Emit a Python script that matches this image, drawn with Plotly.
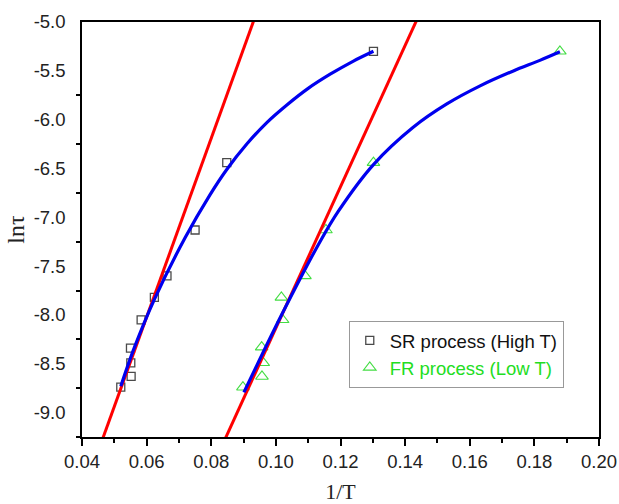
import plotly.graph_objects as go

# Measured relaxation times, slow-relaxation (high T) process
sr_x = [0.0520, 0.0552, 0.0551, 0.0550, 0.0583, 0.0624, 0.0663, 0.0750, 0.0848, 0.1302]
sr_y = [-8.74, -8.63, -8.49, -8.34, -8.05, -7.82, -7.60, -7.13, -6.44, -5.30]

# Measured relaxation times, fast-relaxation (low T) process
fr_x = [0.0898, 0.0957, 0.0961, 0.0956, 0.1021, 0.1017, 0.1090, 0.1155, 0.1302, 0.1879]
fr_y = [-8.74, -8.63, -8.49, -8.33, -8.05, -7.82, -7.60, -7.13, -6.44, -5.30]

# Full fits (smooth curves)
sr_fit_x = [0.0520, 0.0559, 0.0624, 0.0719, 0.0796, 0.0848, 0.0910, 0.0972,
            0.1034, 0.1100, 0.1168, 0.1240, 0.1302]
sr_fit_y = [-8.73, -8.36, -7.84, -7.21, -6.77, -6.51, -6.25, -6.03,
            -5.85, -5.68, -5.535, -5.40, -5.30]
fr_fit_x = [0.0901, 0.1019, 0.1137, 0.1193, 0.1302, 0.1425, 0.1529, 0.1632,
            0.1735, 0.1817, 0.1879]
fr_fit_y = [-8.793, -7.991, -7.247, -6.939, -6.46, -6.078, -5.839, -5.654,
            -5.501, -5.393, -5.305]

# Arrhenius lines: ln(tau) = a + b * (1/T)
sr_arr_a, sr_arr_b = -13.518, 91.6
fr_arr_a, fr_arr_b = -15.369, 72.35
arr_x = [0.04, 0.20]

x_ticks = [0.04, 0.06, 0.08, 0.10, 0.12, 0.14, 0.16, 0.18, 0.20]
x_labels = ["0.04", "0.06", "0.08", "0.10", "0.12", "0.14", "0.16", "0.18", "0.20"]
y_ticks = [-9.0, -8.5, -8.0, -7.5, -7.0, -6.5, -6.0, -5.5, -5.0]
y_labels = ["-9.0", "-8.5", "-8.0", "-7.5", "-7.0", "-6.5", "-6.0", "-5.5", "-5.0"]
y_marks = [-9.25, -8.75, -8.25, -7.75, -7.25, -6.75, -6.25, -5.75]

fig = go.Figure()

fig.add_trace(go.Scatter(
    x=sr_x, y=sr_y, mode="markers", name="SR process (High T)",
    marker=dict(symbol="square-open", size=8, color="#4a4a4a", line=dict(width=1.3)),
))
fig.add_trace(go.Scatter(
    x=fr_x, y=fr_y, mode="markers",
    name="<span style='color:#22dd22'>FR process (Low T)</span>",
    marker=dict(symbol="triangle-up-open", size=11, color="#44dd44", line=dict(width=1.1)),
))

for a, b in [(sr_arr_a, sr_arr_b), (fr_arr_a, fr_arr_b)]:
    fig.add_trace(go.Scatter(
        x=arr_x, y=[a + b * v for v in arr_x], mode="lines", showlegend=False,
        line=dict(color="#ff0000", width=3), hoverinfo="skip",
    ))

for fx, fy in [(sr_fit_x, sr_fit_y), (fr_fit_x, fr_fit_y)]:
    fig.add_trace(go.Scatter(
        x=fx, y=fy, mode="lines", showlegend=False,
        line=dict(color="#0000ee", width=3.2, shape="spline", smoothing=0.9),
        hoverinfo="skip",
    ))

serif = "Liberation Serif, Times New Roman, serif"

fig.update_layout(
    width=619, height=504,
    margin=dict(l=82, r=20, t=22, b=67),
    paper_bgcolor="white", plot_bgcolor="white",
    font=dict(family="Liberation Sans, Arial, sans-serif", size=18.5, color="#222"),
    legend=dict(
        x=0.516, y=0.28, xanchor="left", yanchor="top",
        bordercolor="#999", borderwidth=1, bgcolor="white",
        font=dict(size=18.5, color="#111"),
        tracegroupgap=0,
    ),
    xaxis=dict(
        range=[0.04, 0.20], tickvals=x_ticks, ticktext=x_labels, automargin=False,
        showline=True, linecolor="black", linewidth=1.5, mirror=True,
        ticks="outside", ticklen=7, tickwidth=1.5, tickcolor="black",
        minor=dict(dtick=0.01, tick0=0.04, ticks="outside", ticklen=4, tickwidth=1.5, tickcolor="black"),
        showgrid=False, zeroline=False,
        title=dict(text="1/T", font=dict(family=serif, size=22, color="#222"), standoff=14),
    ),
    yaxis=dict(
        range=[-9.25, -5.0], tickvals=y_ticks, ticktext=y_labels, automargin=False,
        showline=True, linecolor="black", linewidth=1.5, mirror=True,
        ticks="", ticklabelstandoff=11,
        minor=dict(tickvals=y_marks, ticks="outside", ticklen=4, tickwidth=1.5, tickcolor="black"),
        showgrid=False, zeroline=False,
        title=dict(text="lnτ", font=dict(family=serif, size=24, color="#222"), standoff=2),
    ),
)

fig.write_html("out.html")
